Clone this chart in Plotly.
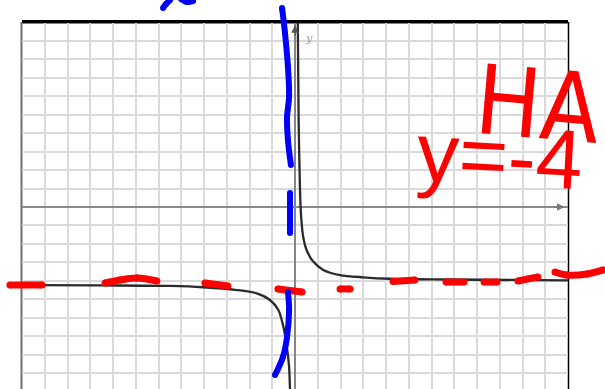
import plotly.graph_objects as go

# ---- graph of the rational function ----
left_x = [-12, -8.57, -5.49, -4.03, -2.56, -1.68, -1.10, -0.73, -0.51, -0.36, -0.26, -0.22, -0.20]
left_y = [-4.23, -4.25, -4.28, -4.35, -4.50, -4.68, -5.04, -5.58, -6.49, -7.57, -8.66, -9.86, -10.5]
right_x = [0.12, 0.16, 0.22, 0.27, 0.36, 0.51, 0.80, 1.24, 1.98, 2.99, 4.18, 6.8, 12]
right_y = [10.3, 4.7, 0.9, -0.54, -1.61, -2.33, -2.96, -3.41, -3.69, -3.81, -3.89, -3.93, -3.98]

# ---- hand-drawn horizontal asymptote (red dashes), in graph units ----
ha_x = [[-12.53, -11.12], [-8.35, -7.69, -6.95, -6.07], [-3.96, -2.95], [-0.75, 0.31],
        [1.98, 2.42], [4.31, 5.27], [6.64, 7.43], [8.31, 8.88], [9.80, 10.68],
        [11.43, 11.96, 12.84, 13.54]]
ha_y = [[-4.23, -4.23], [-4.12, -3.96, -3.85, -4.01], [-4.12, -4.28], [-4.44, -4.61],
        [-4.44, -4.44], [-4.04, -3.96], [-4.07, -4.07], [-4.07, -4.07], [-4.01, -3.79],
        [-3.52, -3.69, -3.63, -3.41]]

# ---- hand-drawn vertical asymptote (blue strokes), in graph units ----
va_x = [[-0.57, -0.44, -0.31, -0.26, -0.35, -0.31, -0.18], [-0.22, -0.22],
        [-0.31, -0.26, -0.35, -0.53, -0.88], [-5.80, -5.67, -5.49], [-5.01, -4.75, -4.48]]
va_y = [[10.79, 9.43, 7.59, 5.96, 4.88, 3.63, 2.28], [0.76, -1.41],
        [-4.61, -5.58, -7.05, -8.13, -9.11], [10.79, 11.0, 11.22], [11.27, 11.11, 11.16]]

grid_x = list(range(-11, 12))
grid_y = list(range(-9, 10))

# ---- page geometry ----
W, H = 605, 389
OX, OY = 295, 207          # pixel position of the origin
SX, SY = 22.75, 18.45      # pixels per unit
PL, PR, PT, PB = 22, 568, 23, 389   # plot frame in pixels


def join(parts):
    out = []
    for p in parts:
        out += list(p) + [None]
    return out[:-1]


fig = go.Figure()

curve_style = dict(color="#2a2a2a", width=2.3, shape="spline", smoothing=0.8)
fig.add_trace(go.Scatter(x=left_x, y=left_y, mode="lines", line=curve_style,
                         xaxis="x", yaxis="y", hoverinfo="skip"))
fig.add_trace(go.Scatter(x=right_x, y=right_y, mode="lines", line=curve_style,
                         xaxis="x", yaxis="y", hoverinfo="skip"))

# pen strokes on a full-page overlay with the same scale
fig.add_trace(go.Scatter(x=join(ha_x), y=join(ha_y), mode="lines+markers",
                         line=dict(color="#ff0000", width=7, shape="spline"),
                         marker=dict(color="#ff0000", size=7),
                         xaxis="x2", yaxis="y2", hoverinfo="skip", connectgaps=False))
fig.add_trace(go.Scatter(x=join(va_x), y=join(va_y), mode="lines+markers",
                         line=dict(color="#0000ff", width=6, shape="spline"),
                         marker=dict(color="#0000ff", size=6),
                         xaxis="x2", yaxis="y2", hoverinfo="skip", connectgaps=False))

grid_color = "#dadada"
fig.update_layout(
    width=W, height=H, autosize=False,
    margin=dict(l=0, r=0, t=0, b=0, pad=0),
    paper_bgcolor="white", plot_bgcolor="rgba(0,0,0,0)",
    showlegend=False,
    xaxis=dict(domain=[PL / W, PR / W], range=[(PL - OX) / SX, (PR - OX) / SX],
               tickvals=grid_x, showticklabels=False, ticks="",
               showgrid=True, gridcolor=grid_color, gridwidth=1.6,
               zeroline=True, zerolinecolor="#858585", zerolinewidth=2,
               showline=False, fixedrange=True),
    yaxis=dict(domain=[0, (H - PT) / H], range=[(OY - PB) / SY, (OY - PT) / SY],
               tickvals=grid_y, showticklabels=False, ticks="",
               showgrid=True, gridcolor=grid_color, gridwidth=1.6,
               zeroline=True, zerolinecolor="#8a8a8a", zerolinewidth=2,
               showline=False, fixedrange=True),
    xaxis2=dict(domain=[0, 1], range=[-OX / SX, (W - OX) / SX], anchor="y2",
                visible=False, fixedrange=True),
    yaxis2=dict(domain=[0, 1], range=[(OY - H) / SY, OY / SY], anchor="x2",
                visible=False, fixedrange=True),
)

# frame of the graph paper
fig.add_shape(type="line", xref="paper", yref="paper", layer="below",
              x0=PL / W, x1=PR / W, y0=1 - (PT - 1.2) / H, y1=1 - (PT - 1.2) / H,
              line=dict(color="black", width=3.5))
fig.add_shape(type="line", xref="paper", yref="paper", layer="below",
              x0=(PL - 0.5) / W, x1=(PL - 0.5) / W, y0=0, y1=1 - (PT - 1) / H,
              line=dict(color="#6e6e6e", width=2))
fig.add_shape(type="line", xref="paper", yref="paper", layer="below",
              x0=(PR + 0.5) / W, x1=(PR + 0.5) / W, y0=0, y1=1 - (PT - 1) / H,
              line=dict(color="black", width=1.5))

# axis arrows and label
fig.add_annotation(x=0, y=9.85, xref="x", yref="y", text="", showarrow=True,
                   ax=0, ay=12, arrowhead=2, arrowsize=1, arrowwidth=1.5,
                   arrowcolor="#555555")
fig.add_annotation(x=11.85, y=0, xref="x", yref="y", text="", showarrow=True,
                   ax=-12, ay=0, arrowhead=2, arrowsize=1, arrowwidth=1.5,
                   arrowcolor="#777777")
fig.add_annotation(x=0.62, y=9.15, xref="x", yref="y", text="<i>y</i>",
                   showarrow=False, font=dict(family="DejaVu Serif", size=11, color="#9a9a9a"))

# handwritten notes
fig.add_annotation(x=10.7, y=5.55, xref="x2", yref="y2", text="HA", showarrow=False,
                   textangle=5,
                   font=dict(family="Liberation Sans Narrow, DejaVu Sans Condensed, Liberation Sans",
                             size=96, color="#ff0000"))
fig.add_annotation(x=9.0, y=2.75, xref="x2", yref="y2", text="y=-4", showarrow=False,
                   textangle=3,
                   font=dict(family="Liberation Sans", size=84, color="#ff0000"))

fig.write_html("out.html")
